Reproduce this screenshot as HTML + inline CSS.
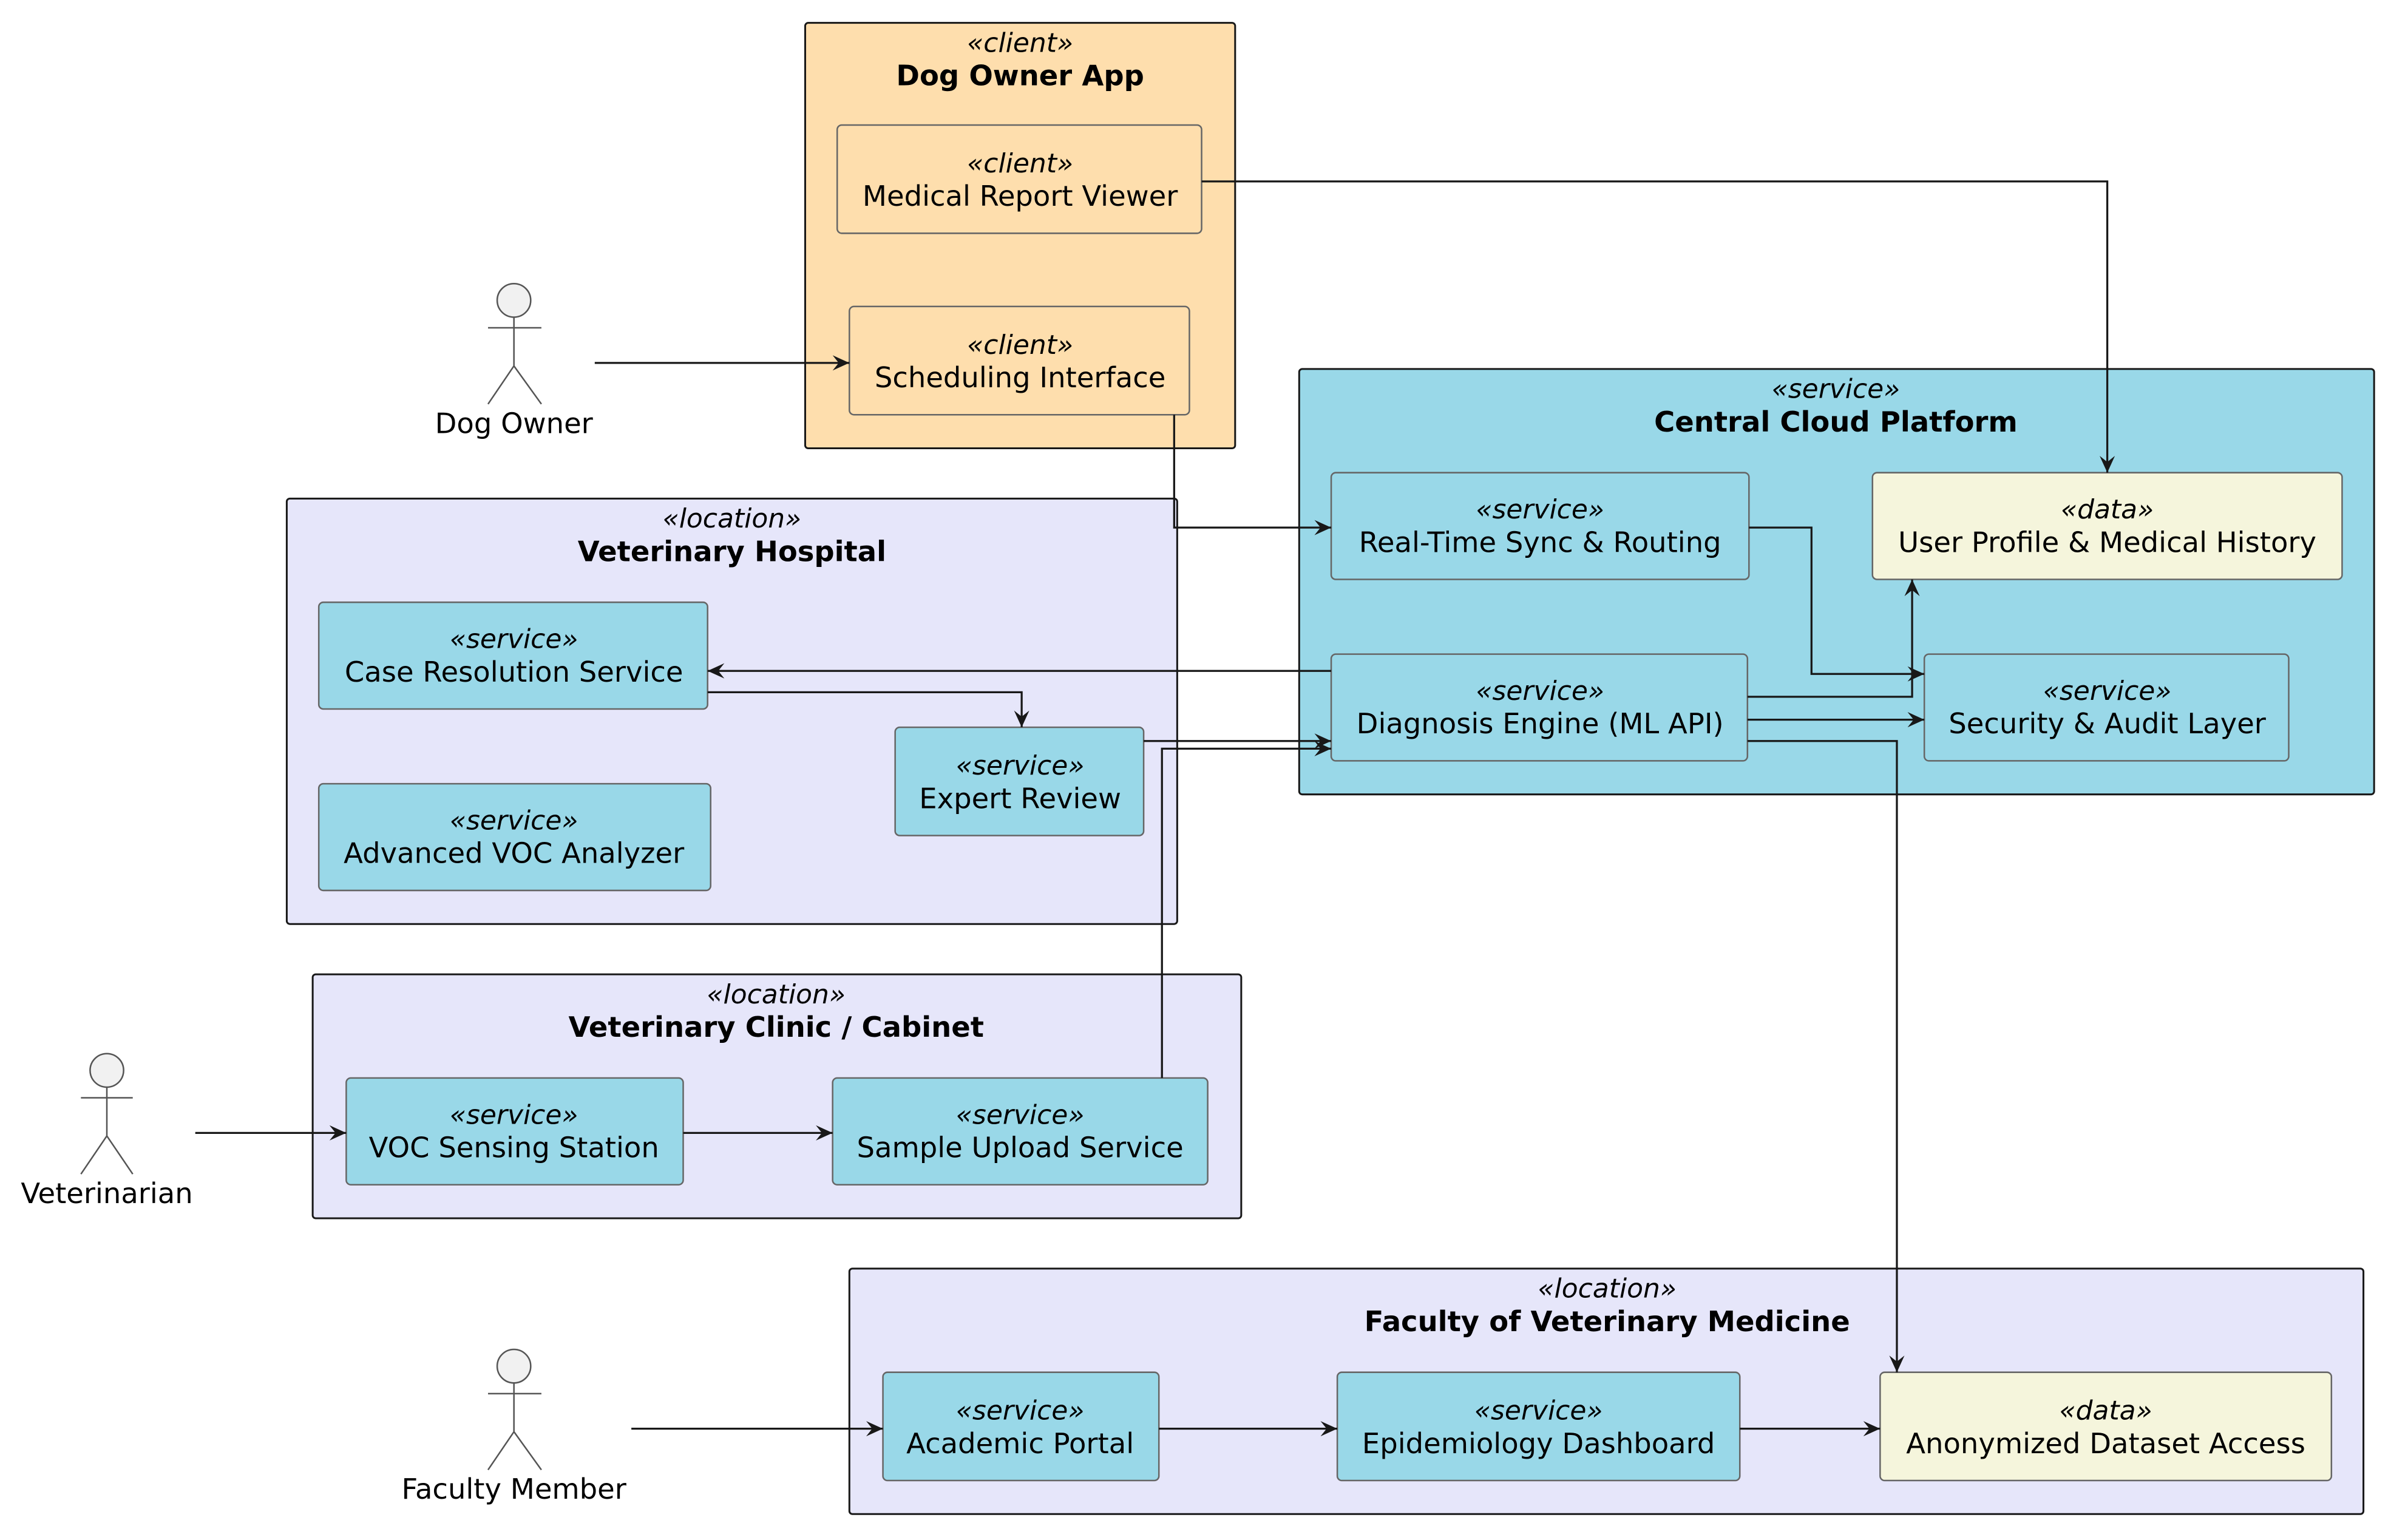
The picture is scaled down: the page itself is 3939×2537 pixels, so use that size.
<!DOCTYPE html>
<html><head><meta charset="utf-8"><style>
html,body{margin:0;padding:0;background:#fff;}
svg{display:block;}
text{font-family:"DejaVu Sans","Liberation Sans",sans-serif;fill:#000;}
.st{font-style:italic;font-size:17.5px;}
.nm{font-size:18.5px;}
.tt{font-weight:bold;font-size:18.5px;}
.c{fill:none;stroke:#181818;stroke-width:1.3;}
.box{stroke:#666;stroke-width:1;}
.outer{stroke:#181818;stroke-width:1.2;}
</style></head><body>
<svg width="3939" height="2537" viewBox="0 0 1568 1010" xmlns="http://www.w3.org/2000/svg">
<defs>
<marker id="a" markerWidth="12" markerHeight="10" refX="11" refY="5" orient="auto" markerUnits="userSpaceOnUse">
<path d="M0,0 L11,5 L0,10 L4,5 Z" fill="#181818"/>
</marker>
</defs>
<g text-anchor="middle">
<!-- Dog Owner App -->
<rect x="528" y="15" width="282" height="279" rx="2" fill="#FEDEAD" class="outer"/>
<text x="669" y="34" class="st">«client»</text>
<text x="669" y="56" class="tt">Dog Owner App</text>
<rect x="549" y="82" width="239" height="71" rx="3" fill="#FEDEAD" class="box"/>
<text x="669" y="113" class="st">«client»</text>
<text x="669" y="135" class="nm">Medical Report Viewer</text>
<rect x="557" y="201" width="223" height="71" rx="3" fill="#FEDEAD" class="box"/>
<text x="669" y="232" class="st">«client»</text>
<text x="669" y="254" class="nm">Scheduling Interface</text>

<!-- Central Cloud -->
<rect x="852" y="242" width="705" height="279" rx="2" fill="#99D8E8" class="outer"/>
<text x="1204" y="261" class="st">«service»</text>
<text x="1204" y="283" class="tt">Central Cloud Platform</text>
<rect x="873" y="310" width="274" height="70" rx="3" fill="#99D8E8" class="box"/>
<text x="1010" y="340" class="st">«service»</text>
<text x="1010" y="362" class="nm">Real-Time Sync &amp; Routing</text>
<rect x="1228" y="310" width="308" height="70" rx="3" fill="#F5F5DC" class="box"/>
<text x="1382" y="340" class="st">«data»</text>
<text x="1382" y="362" class="nm">User Profile &amp; Medical History</text>
<rect x="873" y="429" width="273" height="70" rx="3" fill="#99D8E8" class="box"/>
<text x="1010" y="459" class="st">«service»</text>
<text x="1010" y="481" class="nm">Diagnosis Engine (ML API)</text>
<rect x="1262" y="429" width="239" height="70" rx="3" fill="#99D8E8" class="box"/>
<text x="1382" y="459" class="st">«service»</text>
<text x="1382" y="481" class="nm">Security &amp; Audit Layer</text>

<!-- Vet Hospital -->
<rect x="188" y="327" width="584" height="279" rx="2" fill="#E6E6FA" class="outer"/>
<text x="480" y="346" class="st">«location»</text>
<text x="480" y="368" class="tt">Veterinary Hospital</text>
<rect x="209" y="395" width="255" height="70" rx="3" fill="#99D8E8" class="box"/>
<text x="337" y="425" class="st">«service»</text>
<text x="337" y="447" class="nm">Case Resolution Service</text>
<rect x="587" y="477" width="163" height="71" rx="3" fill="#99D8E8" class="box"/>
<text x="669" y="508" class="st">«service»</text>
<text x="669" y="530" class="nm">Expert Review</text>
<rect x="209" y="514" width="257" height="70" rx="3" fill="#99D8E8" class="box"/>
<text x="337" y="544" class="st">«service»</text>
<text x="337" y="566" class="nm">Advanced VOC Analyzer</text>

<!-- Vet Clinic -->
<rect x="205" y="639" width="609" height="160" rx="2" fill="#E6E6FA" class="outer"/>
<text x="509" y="658" class="st">«location»</text>
<text x="509" y="680" class="tt">Veterinary Clinic / Cabinet</text>
<rect x="227" y="707" width="221" height="70" rx="3" fill="#99D8E8" class="box"/>
<text x="337" y="737" class="st">«service»</text>
<text x="337" y="759" class="nm">VOC Sensing Station</text>
<rect x="546" y="707" width="246" height="70" rx="3" fill="#99D8E8" class="box"/>
<text x="669" y="737" class="st">«service»</text>
<text x="669" y="759" class="nm">Sample Upload Service</text>

<!-- Faculty -->
<rect x="557" y="832" width="993" height="161" rx="2" fill="#E6E6FA" class="outer"/>
<text x="1054" y="851" class="st">«location»</text>
<text x="1054" y="873" class="tt">Faculty of Veterinary Medicine</text>
<rect x="579" y="900" width="181" height="71" rx="3" fill="#99D8E8" class="box"/>
<text x="669" y="931" class="st">«service»</text>
<text x="669" y="953" class="nm">Academic Portal</text>
<rect x="877" y="900" width="264" height="71" rx="3" fill="#99D8E8" class="box"/>
<text x="1009" y="931" class="st">«service»</text>
<text x="1009" y="953" class="nm">Epidemiology Dashboard</text>
<rect x="1233" y="900" width="296" height="71" rx="3" fill="#F5F5DC" class="box"/>
<text x="1381" y="931" class="st">«data»</text>
<text x="1381" y="953" class="nm">Anonymized Dataset Access</text>

<!-- Actors -->
<g fill="#F1F1F1" stroke="#555" stroke-width="1">
<ellipse cx="337" cy="197" rx="11" ry="11"/>
<path d="M337,208 V240 M320,215 H355 M337,240 L320,265 M337,240 L355,265" fill="none"/>
<ellipse cx="70" cy="702" rx="11" ry="11"/>
<path d="M70,713 V745 M53,720 H87 M70,745 L53,770 M70,745 L87,770" fill="none"/>
<ellipse cx="337" cy="896" rx="11" ry="11"/>
<path d="M337,907 V939 M320,914 H355 M337,939 L320,964 M337,939 L355,964" fill="none"/>
</g>
<text x="337" y="284" class="nm">Dog Owner</text>
<text x="70" y="789" class="nm">Veterinarian</text>
<text x="337" y="983" class="nm">Faculty Member</text>
</g>

<!-- Connectors -->
<g class="c">
<path d="M390,238 H557" marker-end="url(#a)"/>
<path d="M788,119 H1382 V310" marker-end="url(#a)"/>
<path d="M770,272 V346 H873" marker-end="url(#a)"/>
<path d="M1147,346 H1188 V442 H1262" marker-end="url(#a)"/>
<path d="M873,440 H464" marker-end="url(#a)"/>
<path d="M464,454 H670 V477" marker-end="url(#a)"/>
<path d="M750,486 H873" marker-end="url(#a)"/>
<path d="M762,707 V491 H873" marker-end="url(#a)"/>
<path d="M1146,457 H1254 V380" marker-end="url(#a)"/>
<path d="M1146,472 H1262" marker-end="url(#a)"/>
<path d="M1146,486 H1244 V900" marker-end="url(#a)"/>
<path d="M128,743 H227" marker-end="url(#a)"/>
<path d="M448,743 H546" marker-end="url(#a)"/>
<path d="M414,937 H579" marker-end="url(#a)"/>
<path d="M760,937 H877" marker-end="url(#a)"/>
<path d="M1141,937 H1233" marker-end="url(#a)"/>
</g>
</svg>
</body></html>
